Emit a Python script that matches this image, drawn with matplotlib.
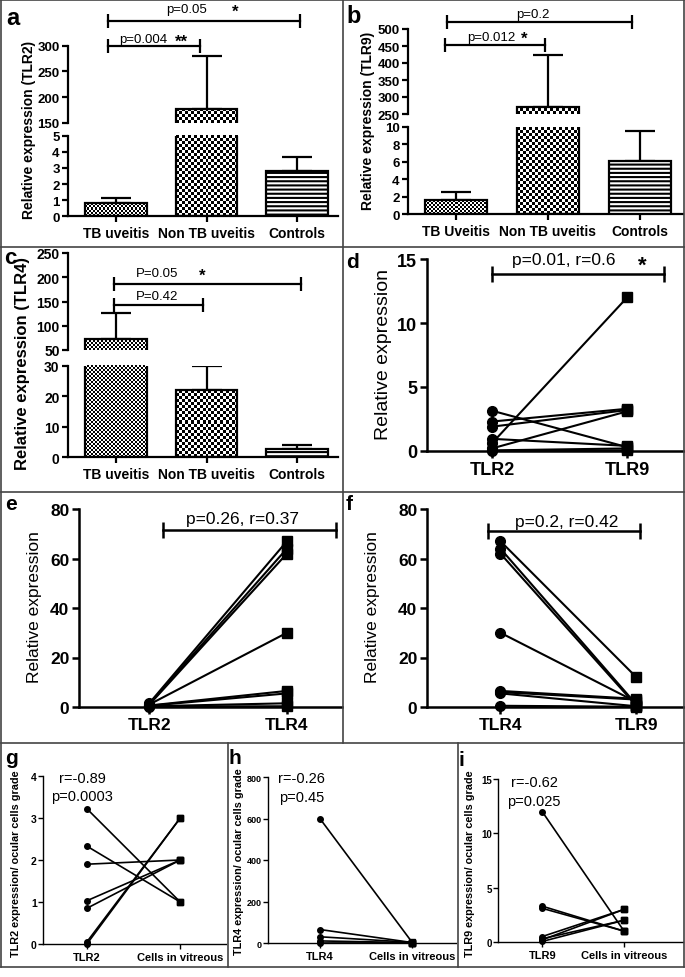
"Toll-like receptor expression panels (a-i) redrawn with matplotlib."
import numpy as np
import matplotlib
matplotlib.use("Agg")
import matplotlib.pyplot as plt
from matplotlib.lines import Line2D

plt.rcParams['font.family'] = ['Liberation Sans', 'DejaVu Sans']
plt.rcParams['font.weight'] = 'bold'
plt.rcParams['hatch.linewidth'] = 1.5

W, H = 685, 978

# ---- bar panels (mean, upper SD) ----
groups_ac = ["TB uveitis", "Non TB uveitis", "Controls"]
groups_b = ["TB Uveitis", "Non TB uveitis", "Controls"]
tlr2_mean = [0.8, 178, 2.8]
tlr2_sd = [0.3, 102, 0.9]
tlr9_mean = [1.6, 270, 6.1]
tlr9_sd = [0.9, 155, 3.4]
tlr4_mean = [73, 22, 2.5]
tlr4_sd = [54, 8, 1.3]

# ---- paired panels ----
d_tlr2 = [3.15, 2.3, 1.9, 0.95, 0.6, 0.2, 0.05, 0.0]
d_tlr9 = [0.3, 3.3, 3.2, 0.4, 12.0, 3.1, 0.2, 0.05]
e_tlr2 = [1.5, 1.2, 0.9, 1.0, 0.6, 0.5, 0.3, 0.2]
e_tlr4 = [67, 64, 62, 30, 6.5, 5.5, 1.5, 0.3]
f_tlr4 = [67, 64, 62, 30, 6.5, 6.0, 5.5, 0.5]
f_tlr9 = [12, 1.0, 0.5, 2.0, 3.3, 3.0, 0.3, 0.1]

# ---- expression vs cells in vitreous ----
g_tlr2 = [3.22, 2.33, 1.9, 1.03, 0.85, 0.05, 0.0]
g_cells = [1, 1, 2, 2, 2, 3, 3]
h_tlr4 = [600, 65, 30, 10, 0]
h_cells = [1, 2, 3, 2, 1]
i_tlr9 = [12, 3.3, 3.1, 0.5, 0.3, 0.2, 0.05]
i_cells = [1, 1, 1, 3, 2, 3, 2]

fig = plt.figure(figsize=(W / 100, H / 100), dpi=100)


def add_ax(l, t, r, b):
    return fig.add_axes([l / W, 1 - b / H, (r - l) / W, (b - t) / H])


def fx(x):
    return x / W


def fy(y):
    return 1 - y / H


def fill_checker(ax, bar, sq):
    x0, w = bar.get_x(), bar.get_width()
    lo, hi = ax.get_ylim()
    y0 = max(bar.get_y(), lo)
    y1 = min(bar.get_y() + bar.get_height(), hi)
    if y1 <= y0:
        return
    p0 = ax.transData.transform((x0, y0))
    p1 = ax.transData.transform((x0 + w, y1))
    nx = max(1, int(round((p1[0] - p0[0]) / sq)))
    ny = max(1, int(round((p1[1] - p0[1]) / sq)))
    grid = np.add.outer(np.arange(ny), np.arange(nx)) % 2
    im = ax.imshow(grid, cmap='gray', extent=(x0, x0 + w, y0, y1), origin='lower',
                   interpolation='nearest', aspect='auto', zorder=2)
    im.set_clip_path(bar)


def bar_panel(rect_up, rect_low, lim_up, lim_low, xlim, means, sds, labels,
              ticks_up, ticks_low, fs):
    up = add_ax(*rect_up)
    low = add_ax(*rect_low)
    x = np.arange(len(means))
    for ax, lim in ((up, lim_up), (low, lim_low)):
        ax.set_xlim(xlim)
        ax.set_ylim(lim)
        ax.spines[['top', 'right']].set_visible(False)
        ax.errorbar(x, means, yerr=[np.zeros(len(x)), sds], fmt='none', ecolor='k',
                    elinewidth=1.6, capsize=11, capthick=1.6, zorder=1)
        bars = ax.bar(x, means, width=0.68, facecolor='none', edgecolor='k',
                      linewidth=1.6, zorder=3)
        fill_checker(ax, bars[0], 2)
        fill_checker(ax, bars[1], 3)
        bars[2].set_facecolor('white')
        bars[2].set_hatch('----')
        ax.set_xlim(xlim)
        ax.set_ylim(lim)
        ax.spines['left'].set_linewidth(1.6)
        ax.tick_params(axis='y', width=1.6, length=4, labelsize=fs, pad=2)
    up.spines['bottom'].set_visible(False)
    up.set_xticks([])
    up.set_yticks(ticks_up)
    low.set_yticks(ticks_low)
    low.set_xticks(x, labels)
    low.spines['bottom'].set_linewidth(1.6)
    low.tick_params(axis='x', width=1.6, length=4, labelsize=10, pad=3)
    return up, low


def bracket(ax, x0, x1, y, ms=10, lw=1.6):
    ax.plot([x0, x1], [y, y], color='k', lw=lw, marker='|', markersize=ms,
            mew=lw, clip_on=False)


def note(ax, x, y, s, size, weight='normal'):
    ax.text(x, y, s, ha='center', va='center', fontsize=size, fontweight=weight,
            clip_on=False)


def paired(rect, a, b, labels, xlim, ylim, yticks, ms, lw, fs, spine_w, yfs=None):
    ax = add_ax(*rect)
    for ya, yb in zip(a, b):
        ax.plot([0, 1], [ya, yb], color='k', lw=lw, zorder=2)
    ax.plot(np.zeros(len(a)), a, 'o', color='k', ms=ms, clip_on=False, zorder=3)
    ax.plot(np.ones(len(b)), b, 's', color='k', ms=ms, clip_on=False, zorder=3)
    ax.set_xlim(xlim)
    ax.set_ylim(ylim)
    ax.set_yticks(yticks)
    ax.set_xticks([0, 1], labels)
    ax.spines[['top', 'right']].set_visible(False)
    ax.spines[['left', 'bottom']].set_linewidth(spine_w)
    ax.tick_params(width=spine_w, length=5 if fs > 10 else 3.5, labelsize=fs, pad=2)
    if yfs is not None:
        ax.tick_params(axis='y', labelsize=yfs, pad=1)
    return ax


# ---------------- panel a ----------------
a_up, a_low = bar_panel((68, 46.5, 338, 124), (68, 137, 338, 217), (150, 300), (0, 5),
                        (-0.53, 2.45), tlr2_mean, tlr2_sd, groups_ac,
                        [150, 200, 250, 300], [0, 1, 2, 3, 4, 5], 9.5)
bracket(a_up, -0.09, 0.93, 299)
note(a_up, 0.3, 313, "p=0.004", 9.5)
note(a_up, 0.72, 309, "**", 12, 'bold')
bracket(a_up, -0.09, 2.03, 347.5)
note(a_up, 0.78, 371, "p=0.05", 9.5)
note(a_up, 1.31, 367, "*", 12, 'bold')
fig.text(fx(29), fy(130), "Relative expression (TLR2)", rotation=90, ha='center',
         va='center', fontsize=10)

# ---------------- panel b ----------------
b_up, b_low = bar_panel((408, 30, 683, 115), (408, 128, 683, 215), (250, 500), (0, 10),
                        (-0.52, 2.47), tlr9_mean, tlr9_sd, groups_b,
                        [250, 300, 350, 400, 450, 500], [0, 2, 4, 6, 8, 10], 9.5)
bracket(b_up, -0.12, 0.97, 453)
note(b_up, 0.39, 476, "p=0.012", 9.5)
note(b_up, 0.74, 473, "*", 12, 'bold')
bracket(b_up, -0.1, 1.92, 520)
note(b_up, 0.84, 544, "p=0.2", 9.5)
fig.text(fx(368), fy(121), "Relative expression (TLR9)", rotation=90, ha='center',
         va='center', fontsize=10)

# ---------------- panel c ----------------
c_up, c_low = bar_panel((68, 254, 338, 351), (68, 367, 338, 458), (50, 250), (0, 30),
                        (-0.53, 2.45), tlr4_mean, tlr4_sd, groups_ac,
                        [50, 100, 150, 200, 250], [0, 10, 20, 30], 10)
bracket(c_up, -0.02, 0.96, 143)
note(c_up, 0.45, 161, "P=0.42", 9.5)
bracket(c_up, -0.02, 2.04, 186)
note(c_up, 0.45, 209, "P=0.05", 9.5)
note(c_up, 0.95, 205, "*", 12, 'bold')
fig.text(fx(23), fy(364), "Relative expression (TLR4)", rotation=90, ha='center',
         va='center', fontsize=12)

# ---------------- panel d ----------------
d = paired((427, 260, 684, 452), d_tlr2, d_tlr9, ["TLR2", "TLR9"], (-0.48, 1.42),
           (0, 15), [0, 5, 10, 15], 7, 1.5, 13, 1.8)
bracket(d, 0, 1.27, 13.83, ms=12, lw=1.8)
note(d, 0.53, 15.0, "p=0.01, r=0.6", 12.5)
note(d, 1.11, 14.5, "*", 16, 'bold')
fig.text(fx(383), fy(355), "Relative expression", rotation=90, ha='center',
         va='center', fontsize=14, fontweight='normal')

# ---------------- panel e ----------------
e = paired((79, 510, 342, 708), e_tlr2, e_tlr4, ["TLR2", "TLR4"], (-0.51, 1.40),
           (0, 80), [0, 20, 40, 60, 80], 7, 1.5, 12.5, 1.8)
bracket(e, 0.1, 1.36, 71.5, ms=12, lw=1.8)
note(e, 0.68, 76, "p=0.26, r=0.37", 12.5)
fig.text(fx(35), fy(607), "Relative expression", rotation=90, ha='center',
         va='center', fontsize=12.5, fontweight='normal')

# ---------------- panel f ----------------
f = paired((427, 510, 684, 708), f_tlr4, f_tlr9, ["TLR4", "TLR9"], (-0.54, 1.35),
           (0, 80), [0, 20, 40, 60, 80], 7, 1.5, 12.5, 1.8)
bracket(f, -0.09, 1.03, 71.1, ms=12, lw=1.8)
note(f, 0.49, 75, "p=0.2, r=0.42", 12.5)
fig.text(fx(373), fy(607), "Relative expression", rotation=90, ha='center',
         va='center', fontsize=12.5, fontweight='normal')

# ---------------- panels g, h, i ----------------
g = paired((43, 777, 226, 945), g_tlr2, g_cells, ["TLR2", "Cells in vitreous"],
           (-0.47, 1.49), (0, 4), [0, 1, 2, 3, 4], 4, 1.2, 8, 1.0, yfs=7.5)
note(g, -0.05, 3.95, "r=-0.89", 10.5)
note(g, -0.05, 3.52, "p=0.0003", 10.5)
fig.text(fx(16), fy(864), "TLR2 expression/ ocular cells grade", rotation=90,
         ha='center', va='center', fontsize=7.8)

h = paired((268, 778, 456, 944), h_tlr4, h_cells, ["TLR4", "Cells in vitreous"],
           (-0.56, 1.47), (0, 800), [0, 200, 400, 600, 800], 4, 1.2, 8, 1.0, yfs=6.5)
note(h, -0.2, 797, "r=-0.26", 10.5)
note(h, -0.2, 705, "p=0.45", 10.5)
fig.text(fx(239), fy(862), "TLR4 expression/ ocular cells grade", rotation=90,
         ha='center', va='center', fontsize=7.8)

i = paired((498, 780, 683, 943), i_tlr9, i_cells, ["TLR9", "Cells in vitreous"],
           (-0.54, 1.72), (0, 15), [0, 5, 10, 15], 4, 1.2, 8, 1.0, yfs=7)
note(i, -0.1, 14.7, "r=-0.62", 10.5)
note(i, -0.1, 13.0, "p=0.025", 10.5)
fig.text(fx(470), fy(864), "TLR9 expression/ ocular cells grade", rotation=90,
         ha='center', va='center', fontsize=7.8)

# ---------------- panel letters ----------------
for lab, x, y, s in [("a", 6, 25, 17), ("b", 346, 23, 17), ("c", 4, 264, 16),
                     ("d", 346, 268, 15), ("e", 5, 510, 15), ("f", 346, 510, 15),
                     ("g", 5, 764, 15), ("h", 229, 764, 15), ("i", 459, 766, 15)]:
    fig.text(fx(x), fy(y), lab, ha='left', va='baseline', fontsize=s, fontweight='bold')

# ---------------- frame lines ----------------
def seg(x0, y0, x1, y1):
    fig.add_artist(Line2D([fx(x0), fx(x1)], [fy(y0), fy(y1)], color='#444444', lw=1.2))


seg(1, 1, 684, 1)
seg(1, 968, 684, 968)
seg(1, 1, 1, 968)
seg(684, 1, 684, 968)
for yy in (248, 493, 744):
    seg(1, yy, 684, yy)
seg(343, 1, 343, 744)
seg(228, 744, 228, 968)
seg(458, 744, 458, 968)

fig.savefig("out.png", dpi=100)
